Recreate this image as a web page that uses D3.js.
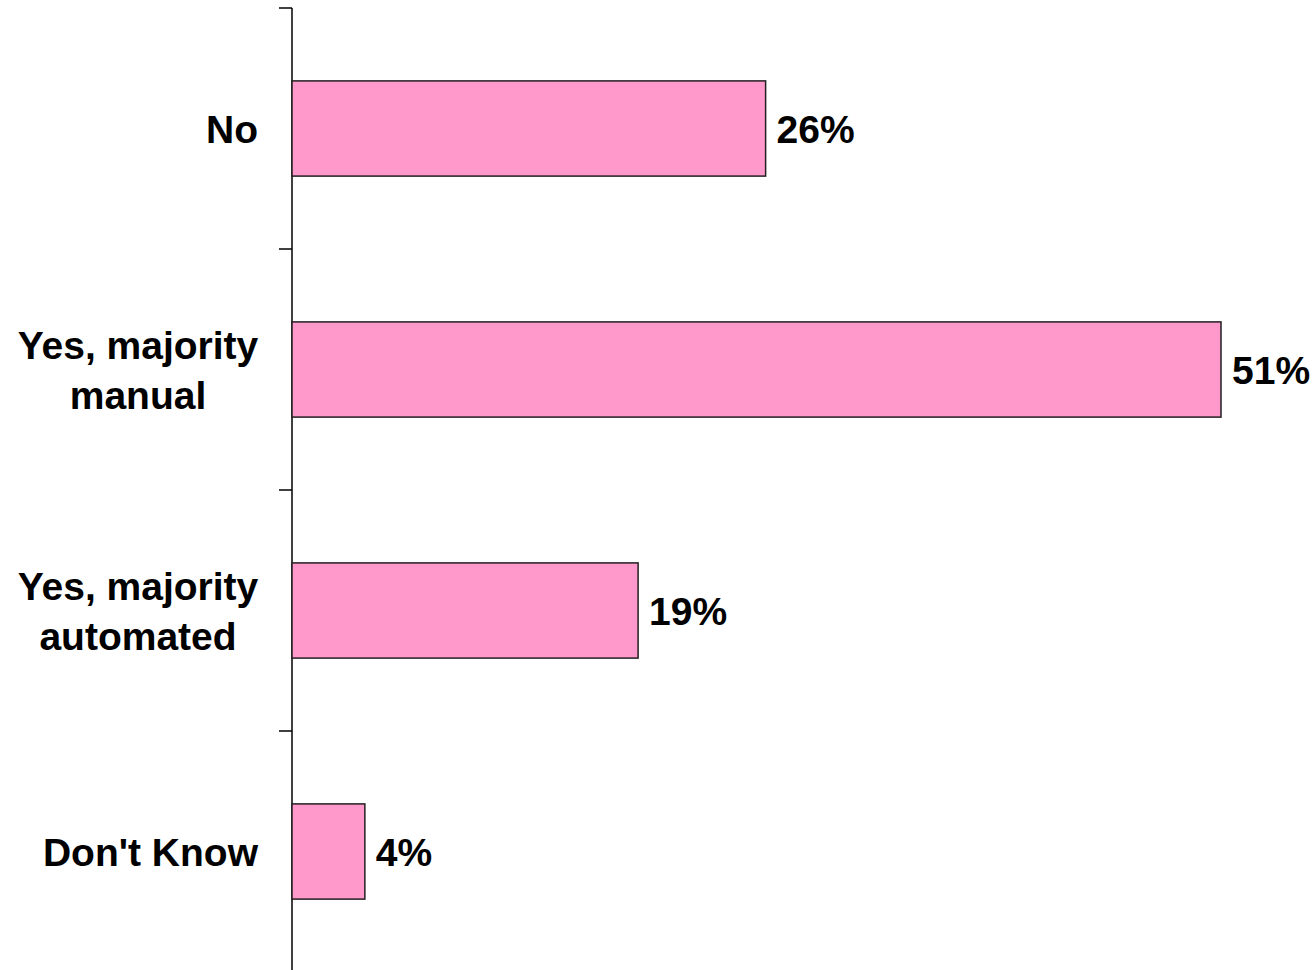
<!DOCTYPE html>
<html>
<head>
<meta charset="utf-8">
<script src="https://cdn.jsdelivr.net/npm/d3@7"></script>
<style>
  body { margin: 0; background: #fff; }
  svg { display: block; }
  text { font-family: "Liberation Sans", Arial, sans-serif; font-weight: bold; fill: #000; }
</style>
</head>
<body>
<svg id="chart" width="1314" height="970"></svg>
<script>
// categories, top to bottom, with wrapped label lines
const categories = ["No", "Yes, majority manual", "Yes, majority automated", "Don't Know"]
const labelLines = [["No"], ["Yes, majority", "manual"], ["Yes, majority", "automated"], ["Don't Know"]]
const values = [26, 51, 19, 4]

const svg = d3.select("#chart")
const plotLeft = 292, plotRight = 1221, plotTop = 8, plotBottom = 972

const x = d3.scaleLinear().domain([0, 51]).range([plotLeft, plotRight])
const y = d3.scaleBand().domain(categories).range([plotTop, plotBottom]).paddingInner(0.605).paddingOuter(0.3025)

// axis line + ticks between categories
svg.append("line").attr("x1", plotLeft).attr("x2", plotLeft).attr("y1", plotTop).attr("y2", 970)
  .attr("stroke", "#000").attr("stroke-width", 1.5)
svg.selectAll(".tick").data(d3.range(categories.length)).join("line").attr("class", "tick")
  .attr("x1", plotLeft - 13).attr("x2", plotLeft)
  .attr("y1", i => plotTop + i * (plotBottom - plotTop) / categories.length)
  .attr("y2", i => plotTop + i * (plotBottom - plotTop) / categories.length)
  .attr("stroke", "#000").attr("stroke-width", 1.5)

// bars
svg.selectAll(".bar").data(categories).join("rect").attr("class", "bar")
  .attr("x", x(0))
  .attr("y", d => y(d))
  .attr("width", (d, i) => x(values[i]) - x(0))
  .attr("height", y.bandwidth())
  .attr("fill", "#ff99cc")
  .attr("stroke", "#231f20").attr("stroke-width", 1.5)

// value labels
svg.selectAll(".val").data(categories).join("text").attr("class", "val")
  .attr("x", (d, i) => x(values[i]) + 11)
  .attr("y", d => y(d) + y.bandwidth() / 2 + 14)
  .attr("font-size", 39)
  .text((d, i) => values[i] + "%")

// category labels
const lab = svg.selectAll(".cat").data(categories).join("text").attr("class", "cat")
  .attr("font-size", 39)
lab.each(function(d, i) {
  const lines = labelLines[i]
  const cy = y(d) + y.bandwidth() / 2
  const lh = 50
  const t = d3.select(this)
  lines.forEach((s, j) => {
    t.append("tspan")
      .attr("x", lines.length === 1 ? 258 : 138)
      .attr("text-anchor", lines.length === 1 ? "end" : "middle")
      .attr("y", cy + 14 + (j - (lines.length - 1) / 2) * lh)
      .text(s)
  })
})
</script>
</body>
</html>
